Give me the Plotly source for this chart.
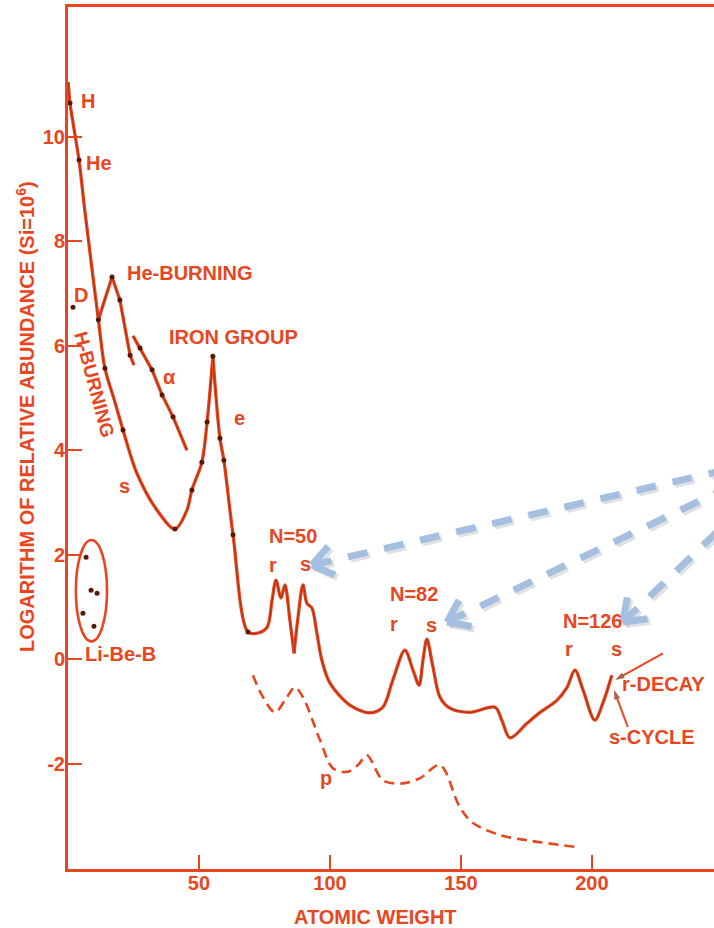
import math
import plotly.graph_objects as go

ORANGE = "#E8461E"
CORE = "#5C1606"
BLUE = "#A5BFE0"
FONT = "Liberation Sans, Arial, sans-serif"

# Main abundance curve: log10 abundance (Si = 10^6) against atomic weight
main_x = [0.1, 0.76, 4.2, 6.4, 11.6, 14.1, 17.7, 21.0, 26.3, 34.0, 40.8, 45.4, 47.3, 51.1, 53.1, 55.3,
          58.0, 59.5, 63.0, 68.7, 72.5, 76.0, 77.9, 79.4, 81.3, 82.8, 84.7, 86.3,
          87.8, 89.7, 91.2, 93.1, 95.0, 96.9, 100.0, 107.6, 115.3, 120.2, 124.0, 128.6,
          131.7, 134.0, 135.5, 137.0, 139.3, 142.0, 145.8, 153.4, 163.0, 165.6, 168.7,
          175.2, 180.2, 186.6, 190.5, 193.5, 196.6, 201.1, 204.2, 207.6]
main_y = [11.05, 10.65, 9.56, 8.6, 6.5, 5.57, 4.96, 4.39, 3.56, 2.85, 2.49, 2.85, 3.24, 3.77, 4.54, 5.8,
          4.23, 3.81, 2.38, 0.52, 0.50, 0.61, 1.13, 1.51, 1.17, 1.42, 0.75, 0.11,
          0.80, 1.42, 1.07, 0.98, 0.50, -0.02, -0.46, -0.88, -1.03, -0.92, -0.40, 0.17,
          -0.21, -0.50, -0.02, 0.38, -0.15, -0.73, -0.94, -1.02, -0.92, -1.17, -1.51,
          -1.23, -1.02, -0.79, -0.54, -0.21, -0.59, -1.17, -0.84, -0.31]
main_cusps = [55.3, 86.3]

# Measured points on the main curve
obs_x = [0.76, 4.2, 11.6, 14.1, 21.0, 40.8, 47.3, 51.1, 53.1, 55.3, 58.0, 59.5, 63.0, 68.7]
obs_y = [10.65, 9.56, 6.5, 5.57, 4.39, 2.49, 3.24, 3.77, 4.54, 5.8, 4.23, 3.81, 2.38, 0.52]

# He-burning branch
heb_x = [11.6, 16.8, 19.8, 23.7, 25.2]
heb_y = [6.5, 7.32, 6.88, 5.82, 5.63]
heb_pts_x = [16.8, 19.8, 23.7]
heb_pts_y = [7.32, 6.88, 5.82]

# alpha-process nuclei
alpha_x = [24.8, 27.5, 32.1, 35.9, 40.1, 45.4]
alpha_y = [6.19, 5.96, 5.54, 5.06, 4.64, 4.0]
alpha_pts_x = [27.5, 32.1, 35.9, 40.1]
alpha_pts_y = [5.96, 5.54, 5.06, 4.64]

# p-process (dashed)
p_x = [70.6, 74.0, 79.0, 82.8, 86.6, 89.7, 96.2, 101.1, 106.5, 110.7, 114.1, 120.2,
       127.9, 134.4, 142.0, 149.6, 154.6, 164.9, 175.2, 194.3]
p_y = [-0.31, -0.69, -1.02, -0.79, -0.54, -0.73, -1.55, -2.09, -2.16, -2.03, -1.84, -2.32,
       -2.38, -2.28, -2.03, -2.84, -3.14, -3.37, -3.47, -3.60]

# Deuterium and Li-Be-B
d_x = [1.9]
d_y = [6.74]
libeb_x = [6.9, 8.8, 11.1, 5.7, 9.9]
libeb_y = [1.95, 1.32, 1.26, 0.88, 0.63]

# r-decay and s-cycle pointers (tail -> head)
rdecay_x = [227.1, 208.8]
rdecay_y = [0.11, -0.40]
scycle_x = [213.7, 208.4]
scycle_y = [-1.30, -0.59]

x_ticks = [50, 100, 150, 200]
x_ticktext = ["50", "100", "150", "200"]
y_ticks = [-2, 0, 2, 4, 6, 8, 10]
y_ticktext = ["-2", "0", "2", "4", "6", "8", "10"]

X_RANGE = [0, 246.6]
Y_RANGE = [-4.02, 12.49]
W, H = 714, 928
M = dict(l=68, r=0, t=7, b=59)
PW = W - M["l"] - M["r"]
PH = H - M["t"] - M["b"]
SX = PW / (X_RANGE[1] - X_RANGE[0])   # px per x unit
SY = PH / (Y_RANGE[1] - Y_RANGE[0])   # px per y unit


def split_at(xs, ys, cusps):
    segs, start = [], 0
    for i, xv in enumerate(xs):
        if xv in cusps and 0 < i < len(xs) - 1:
            segs.append((xs[start:i + 1], ys[start:i + 1]))
            start = i
    segs.append((xs[start:], ys[start:]))
    return segs


fig = go.Figure()


def add_line(xs, ys, shape="spline", dash=None, width=3.3, core=True):
    fig.add_trace(go.Scatter(x=xs, y=ys, mode="lines",
                             line=dict(color=ORANGE, width=width, shape=shape, smoothing=0.9,
                                       dash=dash),
                             hoverinfo="skip", showlegend=False))
    if core:
        fig.add_trace(go.Scatter(x=xs, y=ys, mode="lines",
                                 line=dict(color=CORE, width=0.9, shape=shape, smoothing=0.9,
                                           dash=dash),
                                 opacity=0.5, hoverinfo="skip", showlegend=False))


for sx, sy in split_at(main_x, main_y, main_cusps):
    add_line(sx, sy)
add_line(heb_x, heb_y, shape="linear")
add_line(alpha_x, alpha_y, shape="linear")
add_line(p_x, p_y, dash="10px,6px", width=2.6, core=False)


def add_dots(xs, ys, size=5):
    fig.add_trace(go.Scatter(x=xs, y=ys, mode="markers",
                             marker=dict(color=CORE, size=size, line=dict(width=0)),
                             hoverinfo="skip", showlegend=False))


add_dots(obs_x, obs_y)
add_dots(heb_pts_x, heb_pts_y)
add_dots(alpha_pts_x, alpha_pts_y)
add_dots(d_x, d_y)
add_dots(libeb_x, libeb_y)

# pointers with arrow markers at the head
for ax_, ay_ in ((rdecay_x, rdecay_y), (scycle_x, scycle_y)):
    fig.add_trace(go.Scatter(x=ax_, y=ay_, mode="lines+markers",
                             line=dict(color=ORANGE, width=2),
                             marker=dict(symbol="arrow", angleref="previous", size=[0, 10],
                                         color="#8A2408", line=dict(width=0)),
                             hoverinfo="skip", showlegend=False))

shapes = []
# ellipse around Li-Be-B
shapes.append(dict(type="circle", xref="x", yref="y", x0=3.0, x1=14.9, y0=0.34, y1=2.28,
                   line=dict(color=ORANGE, width=2.6)))

# blue dashed pointers toward the s-process peaks
pointer_tips = [(93.1, 1.80), (144.7, 0.71), (211.8, 0.71)]
pointer_tail = (279.4, 3.95)


def to_data(px_dx, px_dy):
    return px_dx / SX, -px_dy / SY


for tip in pointer_tips:
    for off, col in ((2.5, "rgba(70,70,80,0.16)"), (0.0, BLUE)):
        dxo, dyo = to_data(off, off)
        tx, ty = tip[0] + dxo, tip[1] + dyo
        ex, ey = pointer_tail[0] + dxo, pointer_tail[1] + dyo
        shapes.append(dict(type="line", xref="x", yref="y", x0=tx, y0=ty, x1=ex, y1=ey,
                           line=dict(color=col, width=7, dash="20px,17px"), layer="above"))
        # open chevron head
        vx = (pointer_tail[0] - tip[0]) * SX
        vy = -(pointer_tail[1] - tip[1]) * SY
        n = math.hypot(vx, vy)
        ux, uy = vx / n, vy / n
        arms = []
        for ang in (math.radians(36), math.radians(-36)):
            rx = ux * math.cos(ang) - uy * math.sin(ang)
            ry = ux * math.sin(ang) + uy * math.cos(ang)
            ddx, ddy = to_data(rx * 25, ry * 25)
            arms.append((tx + ddx, ty + ddy))
        for a in arms:
            shapes.append(dict(type="line", xref="x", yref="y", x0=tx, y0=ty, x1=a[0], y1=a[1],
                               line=dict(color=col, width=7), layer="above"))

tf = dict(family=FONT, size=20, color=ORANGE, weight="bold")
sf = dict(family=FONT, size=19, color=ORANGE, weight="bold")

labels = [
    ("H", 7.6, 10.69, "center", 0, tf),
    ("He", 11.8, 9.50, "center", 0, tf),
    ("He-BURNING", 46.6, 7.39, "center", 0, tf),
    ("D", 5.0, 6.97, "center", 0, tf),
    ("H-BURNING", 10.3, 5.25, "center", 75, sf),
    ("IRON GROUP", 63.0, 6.17, "center", 0, tf),
    ("α", 38.9, 5.40, "center", 0, tf),
    ("e", 65.6, 4.62, "center", 0, tf),
    ("s", 21.4, 3.32, "center", 0, tf),
    ("N=50", 85.9, 2.36, "center", 0, tf),
    ("r", 78.2, 1.80, "center", 0, tf),
    ("s", 90.5, 1.82, "center", 0, tf),
    ("N=82", 132.1, 1.25, "center", 0, tf),
    ("r", 124.4, 0.67, "center", 0, tf),
    ("s", 138.9, 0.65, "center", 0, tf),
    ("N=126", 200.4, 0.73, "center", 0, tf),
    ("r", 191.2, 0.19, "center", 0, tf),
    ("s", 209.2, 0.19, "center", 0, tf),
    ("r-DECAY", 210.7, -0.48, "left", 0, tf),
    ("s-CYCLE", 205.7, -1.49, "left", 0, tf),
    ("p", 98.5, -2.28, "center", 0, tf),
    ("Li-Be-B", 5.7, 0.10, "left", 0, tf),
]
annotations = []
for text, x, y, xa, ang, f in labels:
    annotations.append(dict(text=text, x=x, y=y, xref="x", yref="y", xanchor=xa,
                            yanchor="middle", showarrow=False, textangle=ang, font=f))

# axis titles
annotations.append(dict(text="LOGARITHM OF RELATIVE ABUNDANCE (Si=10<sup>6</sup>)",
                        x=(25 - M["l"]) / PW, y=(H - M["b"] - 417) / PH,
                        xref="paper", yref="paper", textangle=-90, showarrow=False,
                        xanchor="center", yanchor="middle", font=tf))
annotations.append(dict(text="ATOMIC WEIGHT", x=(375 - M["l"]) / PW,
                        y=(H - M["b"] - 917) / PH, xref="paper", yref="paper",
                        showarrow=False, xanchor="center", yanchor="middle", font=tf))

axis_common = dict(showgrid=False, zeroline=False, showline=True, linecolor=ORANGE,
                   linewidth=3, ticks="inside", ticklen=14, tickwidth=2.2,
                   tickcolor=ORANGE, tickfont=tf)

fig.update_layout(
    width=W, height=H, margin=M,
    paper_bgcolor="white", plot_bgcolor="white",
    showlegend=False,
    xaxis=dict(range=X_RANGE, tickvals=x_ticks, ticktext=x_ticktext, mirror=True,
               ticklabelstandoff=-6, **axis_common),
    yaxis=dict(range=Y_RANGE, tickvals=y_ticks, ticktext=y_ticktext,
               ticklabelstandoff=-4, **axis_common),
    shapes=shapes,
    annotations=annotations,
)

fig.write_html("out.html")
